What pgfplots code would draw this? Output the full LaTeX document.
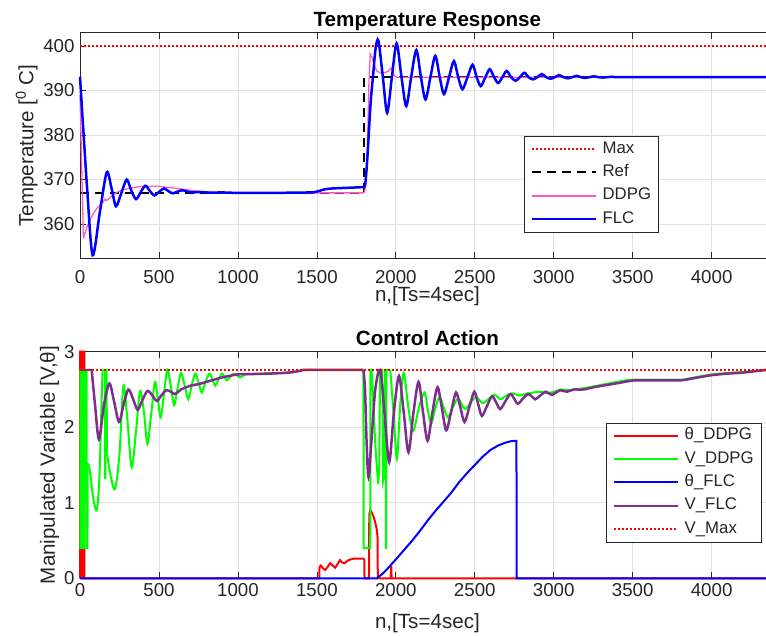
\documentclass[border=0pt]{standalone}
\usepackage{fontspec}
\setmainfont{Liberation Sans}
\usepackage{pgfplots}
\pgfplotsset{compat=1.18}
\definecolor{axgray}{RGB}{38,38,38}
\definecolor{gridgray}{RGB}{225,225,225}
\definecolor{ddpgpink}{RGB}{255,90,195}
\definecolor{flcpurple}{RGB}{126,47,142}
\pgfplotsset{
  base/.style={
    scale only axis, width=694.8pt, clip=false,
    xmin=0, xmax=4400,
    xtick={0,500,...,4000},
    scaled ticks=false,
    /pgf/number format/1000 sep={},
    /pgf/number format/assume math mode=true,
    tick align=inside, major tick length=6pt,
    xtick pos=both, ytick pos=both,
    axis line style={draw=axgray, line width=0.7pt},
    every tick/.style={draw=axgray, line width=0.7pt},
    grid=major,
    major grid style={draw=gridgray, line width=0.7pt},
    tick label style={font=\fontsize{18.7}{20}\selectfont, text=axgray},
    xticklabel style={anchor=base},
    yticklabel style={anchor=east, xshift=-2pt},
    every axis title/.style={at={(axis description cs:0.5,1.0266)}, anchor=base, font=\bfseries\fontsize{20.6}{24}\selectfont, text=black},
    every axis x label/.style={at={(axis description cs:0.5,-0.1924)}, anchor=base, font=\fontsize{20.6}{24}\selectfont, text=axgray},
    every axis y label/.style={at={(axis description cs:-0.0672,0.5)}, rotate=90, anchor=base, font=\fontsize{20.6}{24}\selectfont, text=axgray},
    legend cell align=left,
    legend image code/.code={\draw[#1] (0pt,0pt) -- (64pt,0pt);},
    legend style={draw=black!85, fill=white, font=\fontsize{16.8}{19}\selectfont, anchor=north east, inner xsep=7pt, inner ysep=5pt, row sep=7.3pt, column sep=5pt, nodes={inner sep=0pt, text height=12pt, text depth=4pt, text=axgray}},
  },
}
\begin{document}
\begin{tikzpicture}
\useasboundingbox (0pt,0pt) rectangle (766pt,635pt);
% ---------------- Top axis ----------------
\begin{axis}[base, at={(80pt,376.7pt)}, anchor=south west, height=225.6pt,
  ymin=352.3, ymax=403, ytick={360,370,380,390,400},
  xticklabel style={yshift=-25pt},
  title={Temperature Response},
  xlabel={n,[Ts=4sec]},
  ylabel={Temperature [\textsuperscript{0} C]},
  legend style={at={(0.8323,0.5421)}}]
\addplot[color=red, line width=1.5pt, dash pattern=on 1.5pt off 2.5pt] coordinates {(0,400) (4400,400)};
\addlegendentry{Max}
\addplot[color=black, line width=2pt, dash pattern=on 9pt off 6pt] coordinates {(0,367) (1800,367) (1800,393) (4400,393)};
\addlegendentry{Ref}
\addlegendimage{draw=ddpgpink, line width=1.5pt}
\addlegendentry{DDPG}
\addplot[draw=ddpgpink, line width=1.3pt, forget plot] coordinates {(0,389) (22,356.8)};
\addplot[draw=ddpgpink, line width=1.3pt, smooth, forget plot] coordinates {
(22,356.8) (35,358.3) (53,360.1) (80,362.0) (106,363.5) (148,365.0) (160,365.6) (168,365.3) (211,366.6) (250,367.4) (296,367.9) (380,368.4) (486,368.5) (591,368.1) (718,367.5) (800,367.2) (900,367.05) (1000,367) (1400,367) (1800,367)};
\addplot[draw=ddpgpink, line width=1.3pt, forget plot] coordinates {
(1800,367) (1810,368.5) (1820,377) (1830,392) (1838,398.2) (1850,397.4) (1865,395.5) (1880,394.4) (1900,394.0) (1930,394.0) (1955,394.4) (1970,395.1) (1978,394.3) (1990,393.3) (2010,393.0) (4400,393)};
\addplot[color=blue, line width=2.5pt, smooth] coordinates {
(0,393.1) (45,368) (80,353.0) (125,362.5) (169,371.6) (200,368) (228,364.0) (262,367) (296,370.0) (325,367.5) (355,365.6) (385,367.2) (414,368.6) (443,367.4) (471,366.4) (500,367.2) (532,368.0) (560,367.4) (587,366.9) (618,367.3) (650,367.6) (678,367.3) (705,367.1) (760,367.2) (820,367.05) (900,367.1) (1000,367.0) (1200,367.0) (1450,367.1) (1500,367.3) (1550,367.8) (1600,368.0) (1700,368.15) (1800,368.3)};
\addlegendentry{FLC}
\addplot[color=blue, line width=2.5pt, smooth, forget plot] coordinates {
(1800,368.3) (1808,369.5) (1820,375) (1840,387) (1855,393) (1872,399.5) (1890,401.2) (1918,393) (1945,385.0) (1975,393) (2005,400.6) (2036,393) (2066,386.5) (2097,393) (2130,399.1) (2159,393) (2188,388.0) (2219,393) (2250,397.8) (2278,393) (2305,389.2) (2337,393) (2368,396.6) (2395,393) (2422,390.3) (2454,393) (2486,395.8) (2512,393) (2538,391.0) (2567,393) (2595,394.8) (2622,393) (2648,391.7) (2675,393) (2702,394.4) (2730,393) (2758,392.2) (2786,393) (2814,394.0) (2841,393) (2868,392.5) (2896,393) (2924,393.7) (2952,393) (2980,392.65) (3007,393) (3034,393.45) (3062,393) (3090,392.75) (3117,393) (3145,393.3) (3172,393) (3200,392.85) (3227,393) (3255,393.2) (3282,393) (3310,392.92) (3338,393) (3365,393.1) (3400,393) (3500,393) (4400,393)};
\end{axis}
% ---------------- Bottom axis ----------------
\begin{axis}[base, at={(80pt,56.7pt)}, anchor=south west, height=226.6pt,
  ymin=0, ymax=3, ytick={0,1,2,3},
  xticklabel style={yshift=-18.4pt},
  every axis x label/.append style={at={(axis description cs:0.5,-0.2207)}},
  every axis y label/.append style={at={(axis description cs:-0.036,0.5)}},
  title={Control Action},
  xlabel={n,[Ts=4sec]},
  ylabel={Manipulated Variable [V,θ]},
  legend style={at={(0.9801,0.6867)}}]
\addplot[color=red, line width=2pt] coordinates {
(0,0) (0,3) (14,3) (15,0) (16,0) (17,3) (27,3) (28,0) (1515,0) (1517,0.15) (1525,0.17) (1540,0.13) (1553,0.11) (1568,0.15) (1584,0.20) (1600,0.17) (1616,0.14) (1632,0.19) (1647,0.24) (1660,0.21) (1674,0.20) (1687,0.22) (1700,0.24) (1716,0.25) (1732,0.26) (1760,0.26) (1795,0.26) (1800,0.25) (1802,0) (1830,0) (1832,0.85) (1838,0.90) (1848,0.87) (1862,0.80) (1872,0.72) (1880,0.64) (1884,0.55) (1886,0) (1969,0) (1970,0.15) (1972,0.15) (1973,0) (4400,0)};
\addlegendentry{θ\_DDPG}
\addplot[color=green, line width=2pt] coordinates {
(0,2.76) (2,2.76) (3,0.4) (14,0.4) (15,2.76) (17,2.76) (18,0.4) (28,0.4) (29,2.76) (42,2.76) (43,0.4) (47,0.4) (49,1.52)};
\addlegendentry{V\_DDPG}
\addplot[color=green, line width=2pt, smooth, forget plot] coordinates {
(49,1.52) (58,1.48) (70,1.3) (85,1.05) (106,0.90) (122,1.3) (135,2.2) (143,2.76)};
\addplot[color=green, line width=2pt, forget plot] coordinates {
(143,2.76) (158,2.76) (159,1.33) (161,1.33) (162,2.76) (168,2.76) (171,1.65)};
\addplot[color=green, line width=2pt, smooth, forget plot] coordinates {
(171,1.65) (195,1.35) (222,1.18) (250,1.65) (275,2.55) (300,2.1) (327,1.47) (355,1.95) (380,2.48) (405,2.2) (427,1.78) (452,2.2) (475,2.60) (493,2.38) (511,2.13) (532,2.45) (553,2.76) (575,2.55) (596,2.29) (618,2.52) (640,2.72) (663,2.55) (686,2.37) (708,2.56) (730,2.71) (750,2.6) (771,2.46) (795,2.6) (819,2.71) (838,2.64) (856,2.55) (878,2.64) (898,2.71) (914,2.67) (930,2.62) (951,2.67) (972,2.71) (993,2.69) (1014,2.66) (1040,2.69) (1065,2.71) (1100,2.70) (1150,2.71) (1250,2.715) (1300,2.72) (1350,2.73) (1400,2.75) (1440,2.76) (1500,2.76) (1795,2.76)};
\addplot[color=green, line width=2pt, forget plot] coordinates {
(1795,2.76) (1796,0.4) (1838,0.4) (1839,2.76) (1848,2.76) (1860,2.2) (1872,1.7) (1888,1.25) (1895,1.45) (1900,2.76) (1915,2.76) (1920,1.3) (1930,1.4) (1933,2.76) (1936,2.76) (1937,0.4) (1939,0.4) (1940,2.76) (1965,2.76)};
\addplot[color=green, line width=2pt, smooth, forget plot] coordinates {
(1965,2.76) (1985,2.2) (2007,1.58) (2028,2.3) (2050,2.72) (2080,2.25) (2110,1.95) (2145,2.25) (2182,2.46) (2205,2.2) (2225,2.05) (2250,2.25) (2277,2.40) (2305,2.25) (2330,2.13) (2360,2.26) (2393,2.38) (2418,2.3) (2440,2.24) (2475,2.33) (2507,2.40) (2532,2.35) (2555,2.32) (2590,2.38) (2622,2.43) (2645,2.40) (2664,2.37) (2700,2.42) (2740,2.45) (2780,2.42) (2820,2.44) (2870,2.46) (2920,2.47) (2960,2.45) (3000,2.47) (3050,2.50) (3100,2.49) (3200,2.52) (3300,2.56) (3400,2.60) (3507,2.63) (3800,2.63) (3865,2.65) (4003,2.70) (4182,2.73) (4350,2.76) (4400,2.76)};
\addplot[color=blue, line width=2pt] coordinates {
(0,0) (1880,0) (1910,0.05) (1940,0.11) (1970,0.18) (2000,0.25) (2050,0.37) (2100,0.49) (2150,0.62) (2200,0.76) (2250,0.89) (2300,1.01) (2350,1.13) (2400,1.27) (2450,1.39) (2500,1.50) (2550,1.61) (2600,1.70) (2650,1.76) (2700,1.80) (2730,1.815) (2757,1.82) (2764,1.82) (2765,0) (4400,0)};
\addlegendentry{θ\_FLC}
\addplot[color=flcpurple, line width=2.5pt] coordinates {(0,2.76) (74,2.76)};
\addlegendentry{V\_FLC}
\addplot[color=flcpurple, line width=2.5pt, smooth, forget plot] coordinates {
(74,2.76) (95,2.3) (120,1.84) (152,2.3) (186,2.58) (215,2.35) (247,2.07) (276,2.3) (306,2.50) (335,2.38) (365,2.23) (395,2.36) (427,2.48) (455,2.43) (486,2.35) (515,2.42) (545,2.49) (575,2.47) (602,2.44) (640,2.50) (700,2.55) (750,2.57) (800,2.60) (850,2.63) (900,2.66) (950,2.68) (1000,2.70) (1100,2.705) (1200,2.71) (1300,2.72) (1350,2.73) (1400,2.75) (1440,2.76) (1795,2.76)};
\addplot[color=flcpurple, line width=2.5pt, smooth, forget plot] coordinates {
(1795,2.76) (1805,2.5) (1815,1.8) (1827,1.34) (1845,1.8) (1870,2.5) (1901,2.76) (1928,2.2) (1958,1.54) (1988,2.2) (2020,2.68) (2050,2.2) (2080,1.67) (2112,2.2) (2144,2.60) (2172,2.2) (2201,1.82) (2232,2.2) (2264,2.53) (2292,2.25) (2319,1.96) (2350,2.2) (2381,2.46) (2408,2.27) (2435,2.07) (2466,2.27) (2497,2.47) (2521,2.31) (2545,2.15) (2577,2.28) (2609,2.41) (2635,2.33) (2661,2.24) (2693,2.34) (2725,2.44) (2749,2.38) (2773,2.31) (2805,2.38) (2837,2.44) (2860,2.41) (2883,2.37) (2915,2.42) (2947,2.47) (2968,2.45) (2989,2.43) (3015,2.46) (3041,2.49) (3062,2.48) (3084,2.47) (3105,2.485) (3126,2.50) (3190,2.50) (3253,2.53) (3338,2.56) (3422,2.59) (3507,2.62) (3600,2.62) (3700,2.62) (3802,2.62) (3865,2.64) (3930,2.665) (4003,2.69) (4100,2.71) (4182,2.72) (4270,2.74) (4350,2.76) (4400,2.76)};
\addplot[color=red, line width=1.5pt, dash pattern=on 1.5pt off 2.5pt] coordinates {(0,2.76) (4400,2.76)};
\addlegendentry{V\_Max}
\end{axis}
\end{tikzpicture}
\end{document}
